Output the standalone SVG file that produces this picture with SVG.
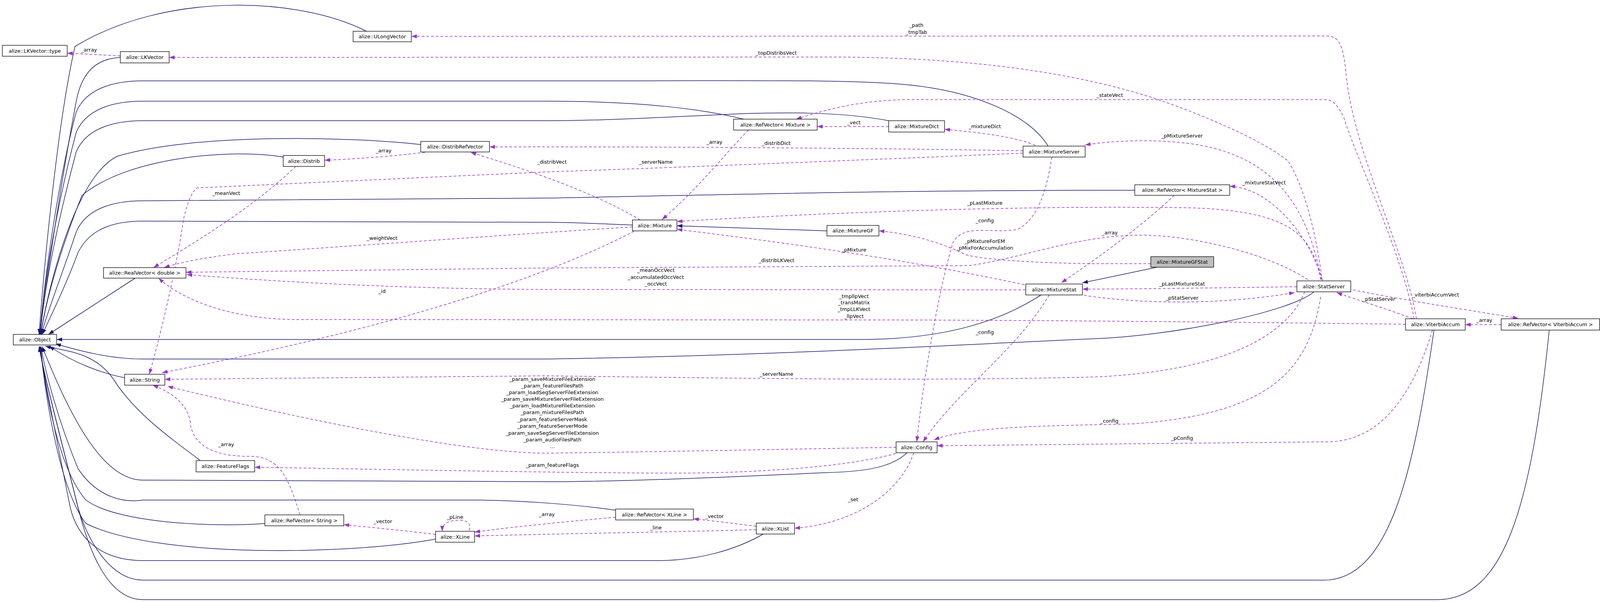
<svg xmlns="http://www.w3.org/2000/svg" width="4101" height="1541" viewBox="0 0 4101 1541">
<style>
text{font-family:"DejaVu Sans","Liberation Sans",sans-serif;font-size:13px;fill:#000;text-anchor:middle}
.n rect{fill:#fff;stroke:#000;stroke-width:1.3}
.g rect{fill:#bfbfbf}
.i{fill:none;stroke:#191970;stroke-width:1.5;marker-end:url(#ai)}
.u{fill:none;stroke:#9a32cd;stroke-width:1.5;stroke-dasharray:7,5;marker-end:url(#au)}
</style>
<defs>
<marker id="ai" markerUnits="userSpaceOnUse" markerWidth="16" markerHeight="12" refX="14" refY="5" orient="auto"><path d="M0,0L14,5L0,10z" fill="#191970"/></marker>
<marker id="au" markerUnits="userSpaceOnUse" markerWidth="16" markerHeight="12" refX="14" refY="5" orient="auto"><path d="M0,0L14,5L0,10z" fill="#9a32cd"/></marker>
</defs>
<rect width="4101" height="1541" fill="#fff"/>
<g id="connectors">
<!-- inheritance -->
<path class="i" d="M938,80C760,-10 420,-20 192,119C150,300 115,650 100,856"/>
<path class="i" d="M308,147C250,150 210,180 195,260C150,500 115,750 101,856"/>
<path class="i" d="M2683,374C2640,300 2500,230 2300,215C2150,203 1900,207 1400,207L366,207C290,207 220,227 195,287C150,457 115,700 102,856"/>
<path class="i" d="M1904,305C1800,280 1650,259 1400,259L366,259C290,259 220,279 195,339C150,509 115,700 102,856"/>
<path class="i" d="M2275,309C2150,285 2000,288 1900,291C1700,300 1550,309 1400,309L366,309C290,309 220,329 195,389C150,559 115,720 103,856"/>
<path class="i" d="M1077,370C900,350 500,340 300,400C200,450 130,700 104,856"/>
<path class="i" d="M725,402C600,380 330,400 210,500C150,650 115,780 105,856"/>
<path class="i" d="M2905,487L2800,487C2200,488 1800,500 1400,507L366,514C290,514 220,534 195,594C160,700 120,800 106,856"/>
<path class="i" d="M1619,576C1550,573 1450,569 1400,569L366,566C290,566 230,586 200,646C165,740 125,820 108,856"/>
<path class="i" d="M346,712L124,856"/>
<path class="i" d="M2665,755C2550,830 2400,869 2200,869L145,869"/>
<path class="i" d="M3364,747C3300,800 3000,860 2800,867C2500,880 2000,910 1400,919L366,919C280,919 200,897 142,880"/>
<path class="i" d="M319,967C260,955 190,930 126,886"/>
<path class="i" d="M513,1179C420,1110 340,1050 290,970C240,900 170,900 116,886"/>
<path class="i" d="M2322,1159C2280,1200 2200,1208 2110,1210C1900,1220 1600,1233 1400,1233L366,1229C280,1229 200,1120 108,887"/>
<path class="i" d="M1576,1306C1500,1295 1350,1280 1200,1280L366,1280C300,1290 240,1260 200,1200C150,1080 115,950 105,887"/>
<path class="i" d="M678,1340C550,1350 300,1340 220,1280C150,1200 115,1000 104,887"/>
<path class="i" d="M1115,1380C900,1420 400,1430 220,1340C150,1250 115,1000 103,887"/>
<path class="i" d="M1954,1367C1880,1410 1780,1435 1686,1435L366,1435C260,1435 200,1380 180,1300C140,1100 110,950 102,887"/>
<path class="i" d="M3671,845C3620,1200 3560,1485 3389,1485L366,1485C290,1485 230,1400 200,1300C150,1100 110,950 101,887"/>
<path class="i" d="M3966,845C3920,1300 3850,1535 3679,1535L366,1535C280,1535 230,1420 200,1300C150,1100 110,950 100,887"/>
<path class="i" d="M2117,591L1733,578"/>
<path class="i" d="M2962,684L2771,724"/>
<!-- usage -->
<path class="u" d="M308,143L172,136"/>
<path class="u" d="M3626,816C3600,650 3470,400 3447,200C3440,120 3430,92 3397,92L1053,93"/>
<path class="u" d="M3385,719C3370,600 3340,480 3298,413C3250,370 3100,300 2950,250C2700,170 2400,145 2100,146L433,147"/>
<path class="u" d="M3620,816C3590,650 3470,400 3440,300C3420,262 3410,255 3390,255L2330,255C2200,255 2100,285 2038,305"/>
<path class="u" d="M2275,324L2092,324"/>
<path class="u" d="M2650,372C2600,350 2500,338 2418,331"/>
<path class="u" d="M2619,386C2300,380 1700,375 1253,376"/>
<path class="u" d="M2619,392C2200,410 1700,430 1400,440L505,481C490,490 480,520 470,560C450,700 400,900 382,958"/>
<path class="u" d="M1088,390C1000,400 900,408 831,410"/>
<path class="u" d="M1639,563C1500,480 1300,420 1205,390"/>
<path class="u" d="M757,426C650,530 500,620 393,685"/>
<path class="u" d="M1619,581C1400,594 900,630 600,650C520,660 460,672 420,685"/>
<path class="u" d="M3348,716C3250,650 3050,600 2910,602C2750,605 2620,660 2480,680L1400,686L476,697"/>
<path class="u" d="M2946,675L2800,675C2650,673 2520,665 2472,652C2430,630 2350,600 2250,591"/>
<path class="u" d="M2626,742L1400,741C1000,739 700,720 478,703"/>
<path class="u" d="M3598,830C3200,825 2600,819 2200,819L760,818C620,818 480,780 406,712"/>
<path class="u" d="M1623,592C1300,760 800,880 415,954"/>
<path class="u" d="M2294,1145C2000,1150 1600,1158 1400,1160C1200,1160 800,1080 429,989"/>
<path class="u" d="M3340,747C3300,850 3150,950 2800,965C2400,975 2000,970 1400,962L422,971"/>
<path class="u" d="M2293,1161C2150,1200 1900,1210 1757,1211C1500,1212 900,1200 652,1196"/>
<path class="u" d="M768,1318C740,1230 720,1170 643,1168C520,1170 490,1120 487,1080C480,1030 430,1000 391,986"/>
<path class="u" d="M1115,1368C1050,1360 950,1350 880,1343"/>
<path class="u" d="M1201,1358C1210,1330 1180,1330 1160,1333C1140,1336 1132,1345 1132,1360"/>
<path class="u" d="M1576,1324C1450,1335 1300,1350 1215,1362"/>
<path class="u" d="M1936,1347C1880,1340 1820,1333 1775,1328"/>
<path class="u" d="M1936,1356C1700,1362 1400,1367 1215,1372"/>
<path class="u" d="M2339,1159C2310,1250 2200,1340 2034,1352"/>
<path class="u" d="M2693,402C2680,480 2660,560 2605,587C2540,600 2470,570 2440,620C2400,750 2360,1000 2347,1131"/>
<path class="u" d="M2686,755C2600,900 2450,1000 2363,1131"/>
<path class="u" d="M3381,760C3350,950 3250,1060 2900,1085C2700,1090 2480,1090 2391,1126"/>
<path class="u" d="M3667,845C3620,1000 3540,1131 3397,1131L2399,1141"/>
<path class="u" d="M2623,729C2300,660 2000,620 1733,587"/>
<path class="u" d="M3381,716C3360,600 3300,540 3049,532C2600,525 2100,545 1733,567"/>
<path class="u" d="M3383,716C3350,550 3280,400 3049,368C2950,355 2850,360 2778,371"/>
<path class="u" d="M3385,716C3350,600 3250,480 3148,477"/>
<path class="u" d="M3320,734C3100,737 2900,740 2771,740"/>
<path class="u" d="M2775,756C2900,775 3100,785 3314,749"/>
<path class="u" d="M3617,816C3550,790 3480,770 3422,749"/>
<path class="u" d="M3464,742C3600,770 3800,800 3887,815"/>
<path class="u" d="M3843,831L3751,831"/>
<path class="u" d="M1916,333C1850,400 1790,480 1695,562"/>
<path class="u" d="M3006,500C2900,600 2780,680 2717,724"/>
<!-- labels -->
<text x="228" y="132">_array</text>
<text x="2346" y="69">_path</text><text x="2346" y="87">_tmpTab</text>
<text x="1987" y="140">_topDistribsVect</text>
<text x="2841" y="248">_stateVect</text>
<text x="2186" y="318">_vect</text>
<text x="2521" y="328">_mixtureDict</text>
<text x="1987" y="371">_distribDict</text>
<text x="1679" y="419">_serverName</text>
<text x="982" y="390">_array</text>
<text x="1413" y="419">_distribVect</text>
<text x="579" y="499">_meanVect</text>
<text x="978" y="614">_weightVect</text>
<text x="1988" y="671">_distribLKVect</text>
<text x="2521" y="622">_pMixtureForEM</text><text x="2521" y="639">_pMixForAccumulation</text>
<text x="1679" y="696">_meanOccVect</text><text x="1679" y="714">_accumulatedOccVect</text><text x="1679" y="731">_occVect</text>
<text x="2186" y="763">_tmpllpVect</text><text x="2186" y="779">_transMatrix</text><text x="2186" y="796">_tmpLLKVect</text><text x="2186" y="814">_llpVect</text>
<text x="978" y="750">_id</text>
<text x="1414" y="975">_param_saveMixtureFileExtension</text>
<text x="1414" y="992">_param_featureFilesPath</text>
<text x="1414" y="1009">_param_loadSegServerFileExtension</text>
<text x="1414" y="1026">_param_saveMixtureServerFileExtension</text>
<text x="1414" y="1043">_param_loadMixtureFileExtension</text>
<text x="1414" y="1060">_param_mixtureFilesPath</text>
<text x="1414" y="1078">_param_featureServerMask</text>
<text x="1414" y="1095">_param_featureServerMode</text>
<text x="1414" y="1113">_param_saveSegServerFileExtension</text>
<text x="1414" y="1130">_param_audioFilesPath</text>
<text x="1414" y="1147">...</text>
<text x="1988" y="962">_serverName</text>
<text x="1414" y="1195">_param_featureFlags</text>
<text x="579" y="1142">_array</text>
<text x="980" y="1339">_vector</text>
<text x="1165" y="1328">_pLine</text>
<text x="1400" y="1321">_array</text>
<text x="1829" y="1326">_vector</text>
<text x="1679" y="1355">_line</text>
<text x="2184" y="1283">_set</text>
<text x="2521" y="569">_config</text>
<text x="2521" y="855">_config</text>
<text x="2840" y="1082">_config</text>
<text x="3026" y="1126">_pConfig</text>
<text x="2186" y="644">_pMixture</text>
<text x="2521" y="524">_pLastMixture</text>
<text x="3026" y="352">_pMixtureServer</text>
<text x="3236" y="472">_mixtureStatVect</text>
<text x="3026" y="731">_pLastMixtureStat</text>
<text x="3026" y="767">_pStatServer</text>
<text x="3530" y="770">_pStatServer</text>
<text x="3675" y="759">_viterbiAccumVect</text>
<text x="3800" y="824">_array</text>
<text x="1829" y="368">_array</text>
<text x="2841" y="600">_array</text>
</g>
<g id="n_lktype" class="n"><rect x="6" y="116" width="166" height="28"/><text x="89" y="134.5">alize::LKVector::type</text></g>
<g id="n_lkvector" class="n"><rect x="308" y="132" width="125" height="29"/><text x="370.5" y="151">alize::LKVector</text></g>
<g id="n_ulong" class="n"><rect x="904" y="80" width="149" height="27"/><text x="978.5" y="98">alize::ULongVector</text></g>
<g id="n_distribref" class="n"><rect x="1077" y="362" width="176" height="27"/><text x="1165" y="380">alize::DistribRefVector</text></g>
<g id="n_distrib" class="n"><rect x="725" y="398" width="106" height="28"/><text x="778" y="416.5">alize::Distrib</text></g>
<g id="n_realvector" class="n"><rect x="265" y="685" width="211" height="27"/><text x="370.5" y="703">alize::RealVector&lt; double &gt;</text></g>
<g id="n_refmixture" class="n"><rect x="1878" y="305" width="214" height="28"/><text x="1985" y="323.5">alize::RefVector&lt; Mixture &gt;</text></g>
<g id="n_mixturedict" class="n"><rect x="2275" y="309" width="143" height="29"/><text x="2346.5" y="328">alize::MixtureDict</text></g>
<g id="n_mixtureserver" class="n"><rect x="2619" y="374" width="159" height="28"/><text x="2698.5" y="392.5">alize::MixtureServer</text></g>
<g id="n_mixture" class="n"><rect x="1619" y="563" width="114" height="28"/><text x="1676" y="581.5">alize::Mixture</text></g>
<g id="n_mixturegf" class="n"><rect x="2117" y="577" width="133" height="27"/><text x="2183.5" y="595">alize::MixtureGF</text></g>
<g id="n_mixturestat" class="n"><rect x="2626" y="727" width="145" height="28"/><text x="2698.5" y="745.5">alize::MixtureStat</text></g>
<g id="n_refmixturestat" class="n"><rect x="2905" y="473" width="243" height="27"/><text x="3026.5" y="491">alize::RefVector&lt; MixtureStat &gt;</text></g>
<g id="n_mixturegfstat" class="n g"><rect x="2946" y="657" width="161" height="27"/><text x="3026.5" y="675">alize::MixtureGFStat</text></g>
<g id="n_statserver" class="n"><rect x="3320" y="719" width="138" height="28"/><text x="3389" y="737.5">alize::StatServer</text></g>
<g id="n_object" class="n"><rect x="34" y="856" width="111" height="27"/><text x="89.5" y="874">alize::Object</text></g>
<g id="n_string" class="n"><rect x="319" y="958" width="103" height="28"/><text x="370.5" y="976.5">alize::String</text></g>
<g id="n_featureflags" class="n"><rect x="502" y="1179" width="150" height="29"/><text x="577" y="1198">alize::FeatureFlags</text></g>
<g id="n_refstring" class="n"><rect x="678" y="1318" width="202" height="28"/><text x="779" y="1336.5">alize::RefVector&lt; String &gt;</text></g>
<g id="n_xline" class="n"><rect x="1115" y="1360" width="100" height="28"/><text x="1165" y="1378.5">alize::XLine</text></g>
<g id="n_config" class="n"><rect x="2294" y="1131" width="105" height="28"/><text x="2346.5" y="1149.5">alize::Config</text></g>
<g id="n_refxline" class="n"><rect x="1576" y="1303" width="199" height="28"/><text x="1675.5" y="1321.5">alize::RefVector&lt; XLine &gt;</text></g>
<g id="n_xlist" class="n"><rect x="1936" y="1339" width="98" height="28"/><text x="1985" y="1357.5">alize::XList</text></g>
<g id="n_viterbi" class="n"><rect x="3598" y="816" width="153" height="29"/><text x="3674.5" y="835">alize::ViterbiAccum</text></g>
<g id="n_refviterbi" class="n"><rect x="3843" y="816" width="252" height="29"/><text x="3969" y="835">alize::RefVector&lt; ViterbiAccum &gt;</text></g>
</svg>
